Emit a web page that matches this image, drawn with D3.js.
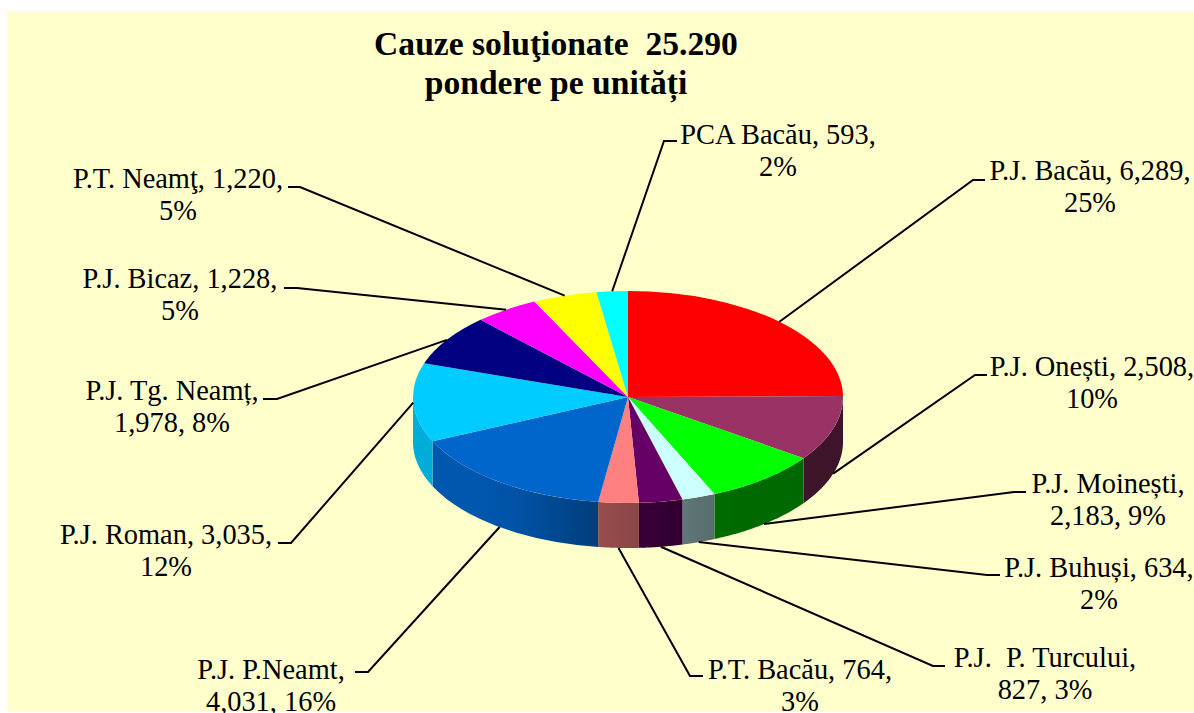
<!DOCTYPE html>
<html><head><meta charset="utf-8">
<script src="https://cdn.jsdelivr.net/npm/d3@7"></script>
<style>html,body{margin:0;padding:0;background:#fff;overflow:hidden}svg{display:block}text{font-family:"Liberation Serif",serif;fill:#000}</style>
</head><body><svg id="c" width="1194" height="713"></svg>
<script>
const titleLines = ["Cauze soluţionate  25.290", "pondere pe unități"];
const categories = ["P.J. Bacău","P.J. Onești","P.J. Moinești","P.J. Buhuși","P.J.  P. Turcului","P.T. Bacău","P.J. P.Neamt","P.J. Roman","P.J. Tg. Neamț","P.J. Bicaz","P.T. Neamţ","PCA Bacău"];
const values = [6289,2508,2183,634,827,764,4031,3035,1978,1228,1220,593];
const colors = ["#FF0000","#993366","#00FF00","#CCFFFF","#660066","#FF8080","#0066CC","#00CCFF","#000080","#FF00FF","#FFFF00","#00FFFF"];
const labelLines = [
 ["P.J. Bacău, 6,289,","25%"],["P.J. Onești, 2,508,","10%"],["P.J. Moinești,","2,183, 9%"],["P.J. Buhuși, 634,","2%"],
 ["P.J.  P. Turcului,","827, 3%"],["P.T. Bacău, 764,","3%"],["P.J. P.Neamt,","4,031, 16%"],["P.J. Roman, 3,035,","12%"],
 ["P.J. Tg. Neamț,","1,978, 8%"],["P.J. Bicaz, 1,228,","5%"],["P.T. Neamţ, 1,220,","5%"],["PCA Bacău, 593,","2%"]];
// layout: label centre x, first baseline, leader elbow x, elbow y, leader end x
const labelLayout = [
 [1090,180,973,180,985],[1092,376,975,375,987],[1108,493,1014,492,1026],[1099,577,987,575,1000],
 [1045,667,933,666,945],[800,679,690,676,703],[271,679,368,672,355],[166,544,291,543,278],
 [172,400,277,399,263],[180,288,297,288,284],[178,188,300,187,288],[778,144,664,141,677]];

const cx=628, cy=397, rx=215, ry=106, depth=45;
const svg=d3.select("#c");
svg.append("rect").attr("x",7).attr("y",11).attr("width",1187).attr("height",701).attr("fill","#FFFFCC");

const arcs=d3.pie().sort(null).value(d=>d)(values);
const shade=d3.scaleLinear().domain([413,500,600,660,720,843]).range([.85,.85,.6,.5,.42,.4]);
const defs=svg.append("defs");
const pt=(a,dy)=>[cx+rx*Math.sin(a), cy-ry*Math.cos(a)+dy];

// front wall of each slice
const g=svg.append("g");
arcs.forEach((d,i)=>{
  const a0=Math.max(d.startAngle,Math.PI/2), a1=Math.min(d.endAngle,Math.PI*1.5);
  if(a1<=a0) return;
  const id="s"+i, base=d3.rgb(colors[i]);
  const x0=pt(a0,0)[0], x1=pt(a1,0)[0];
  const grad=defs.append("linearGradient").attr("id",id).attr("gradientUnits","userSpaceOnUse")
    .attr("x1",x0).attr("x2",x1).attr("y1",0).attr("y2",0);
  d3.range(0,1.01,.25).forEach(t=>{
    const f=shade(x0+(x1-x0)*t);
    grad.append("stop").attr("offset",t).attr("stop-color",d3.rgb(base.r*f,base.g*f,base.b*f));
  });
  const steps=d3.range(0,41).map(k=>a0+(a1-a0)*k/40);
  const top=steps.map(a=>pt(a,0)), bot=steps.slice().reverse().map(a=>pt(a,depth));
  g.append("path").attr("d",d3.line()(top.concat(bot))+"Z").attr("fill",`url(#${id})`);
});

// top face
const arcGen=d3.arc().innerRadius(0).outerRadius(rx);
svg.append("g").attr("transform",`translate(${cx},${cy}) scale(1,${ry/rx})`)
  .selectAll("path").data(arcs).join("path").attr("d",arcGen).attr("fill",(d,i)=>colors[i]);

// leaders
arcs.forEach((d,i)=>{
  const m=(d.startAngle+d.endAngle)/2, L=labelLayout[i];
  const p=pt(m,Math.cos(m)<-0.1?depth:0);
  svg.append("path").attr("d",d3.line()([p,[L[2],L[3]],[L[4],L[3]]]))
    .attr("fill","none").attr("stroke","#000").attr("stroke-width",2);
});

// labels
labelLines.forEach((ls,i)=>{
  const L=labelLayout[i];
  ls.forEach((t,k)=>svg.append("text").attr("x",L[0]).attr("y",L[1]+k*32).attr("text-anchor","middle")
    .attr("font-size",28.4).style("white-space","pre").text(t));
});
titleLines.forEach((t,k)=>svg.append("text").attr("x",556).attr("y",55+k*39).attr("text-anchor","middle")
  .attr("font-size",33.6).attr("font-weight","bold").style("white-space","pre").text(t));
</script></body></html>
